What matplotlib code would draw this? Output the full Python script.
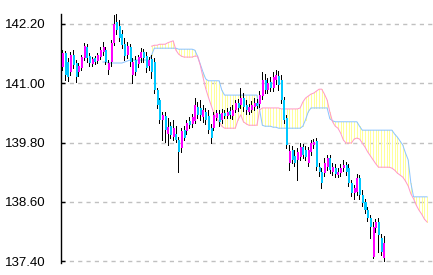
import matplotlib

matplotlib.use("Agg")
import matplotlib.pyplot as plt
import numpy as np

# candles (open, high, low, close)
opens = [
    141.33, 141.61, 141.43, 141.23, 141.57, 141.41, 141.23, 141.31, 141.51, 141.73,
    141.55, 141.39, 141.51, 141.45, 141.53, 141.63, 141.67, 141.27, 141.43, 141.82,
    142.24, 142.16, 142.00, 141.79, 141.57, 141.73, 141.17, 141.47, 141.39, 141.51,
    141.63, 141.55, 141.35, 141.49, 141.43, 140.86, 140.66, 140.26, 140.34, 139.97,
    140.13, 139.91, 139.97, 139.85, 139.69, 140.05, 140.03, 140.24, 140.18, 140.24,
    140.52, 140.50, 140.32, 140.42, 140.34, 140.09, 140.09, 140.30, 140.38, 140.26,
    140.40, 140.34, 140.44, 140.34, 140.46, 140.60, 140.56, 140.70, 140.56, 140.42,
    140.46, 140.52, 140.60, 140.58, 140.74, 141.07, 140.86, 141.03, 140.90, 141.07,
    141.15, 141.07, 140.66, 140.30, 139.39, 139.65, 139.53, 139.45, 139.51, 139.71,
    139.65, 139.39, 139.61, 139.75, 139.83, 139.30, 139.20, 139.18, 139.30, 139.49,
    139.20, 139.28, 139.14, 139.18, 139.28, 139.34, 139.28, 138.98, 138.78, 138.80,
    139.08, 138.74, 138.60, 138.43, 138.27, 137.48, 138.07, 138.19, 137.87, 137.46,
]
closes = [
    141.61, 141.17, 141.13, 141.57, 141.37, 141.13, 141.35, 141.53, 141.75, 141.51,
    141.41, 141.49, 141.43, 141.57, 141.67, 141.73, 141.43, 141.41, 141.82, 142.20,
    142.08, 141.92, 141.77, 141.55, 141.75, 141.43, 141.43, 141.23, 141.53, 141.63,
    141.51, 141.31, 141.47, 141.23, 140.86, 140.56, 140.26, 140.36, 140.05, 140.11,
    139.95, 140.09, 139.85, 139.61, 140.03, 139.89, 140.20, 140.15, 140.32, 140.56,
    140.36, 140.36, 140.46, 140.26, 140.05, 139.89, 140.36, 140.40, 140.22, 140.40,
    140.34, 140.42, 140.36, 140.46, 140.60, 140.50, 140.70, 140.52, 140.46, 140.52,
    140.56, 140.60, 140.54, 140.76, 141.07, 140.86, 141.01, 140.90, 141.13, 141.17,
    140.96, 140.66, 140.26, 139.75, 139.63, 139.45, 139.39, 139.61, 139.71, 139.55,
    139.51, 139.65, 139.79, 139.81, 139.30, 139.20, 138.98, 139.39, 139.49, 139.24,
    139.30, 139.16, 139.20, 139.28, 139.34, 139.20, 138.98, 138.78, 138.88, 139.08,
    138.74, 138.58, 138.43, 138.27, 138.09, 138.09, 138.19, 137.93, 137.58, 137.76,
]
highs = [
    141.67, 141.65, 141.51, 141.63, 141.67, 141.47, 141.41, 141.57, 141.82, 141.79,
    141.61, 141.53, 141.55, 141.61, 141.73, 141.84, 141.73, 141.47, 141.88, 142.38,
    142.40, 142.28, 142.08, 141.92, 141.84, 141.79, 141.51, 141.55, 141.57, 141.71,
    141.69, 141.63, 141.53, 141.57, 141.51, 140.90, 140.70, 140.42, 140.42, 140.30,
    140.22, 140.26, 140.13, 139.91, 140.09, 140.13, 140.26, 140.32, 140.38, 140.70,
    140.62, 140.66, 140.56, 140.50, 140.46, 140.18, 140.42, 140.46, 140.46, 140.48,
    140.46, 140.50, 140.52, 140.56, 140.66, 140.68, 140.90, 140.80, 140.66, 140.58,
    140.64, 140.70, 140.68, 140.84, 141.23, 141.19, 141.11, 141.13, 141.23, 141.27,
    141.25, 141.17, 140.72, 140.36, 139.75, 139.73, 139.65, 139.69, 139.79, 139.77,
    139.73, 139.71, 139.85, 139.87, 139.89, 139.39, 139.28, 139.49, 139.55, 139.55,
    139.39, 139.37, 139.28, 139.37, 139.45, 139.41, 139.37, 139.04, 138.94, 139.16,
    139.14, 138.84, 138.66, 138.49, 138.33, 138.19, 138.25, 138.27, 137.95, 137.91,
]
lows = [
    141.27, 141.07, 141.05, 141.17, 141.31, 141.03, 141.15, 141.27, 141.47, 141.43,
    141.35, 141.35, 141.39, 141.41, 141.49, 141.57, 141.39, 141.19, 141.35, 141.77,
    142.00, 141.86, 141.71, 141.47, 141.51, 141.35, 141.01, 141.17, 141.33, 141.43,
    141.43, 141.23, 141.27, 141.11, 140.80, 140.50, 140.20, 139.85, 139.81, 139.75,
    139.89, 139.85, 139.81, 139.20, 139.61, 139.85, 139.97, 140.09, 140.11, 140.20,
    140.30, 140.26, 140.22, 140.18, 139.99, 139.79, 140.05, 140.26, 140.13, 140.20,
    140.30, 140.30, 140.30, 140.28, 140.42, 140.44, 140.50, 140.44, 140.38, 140.38,
    140.42, 140.46, 140.50, 140.52, 140.68, 140.80, 140.80, 140.84, 140.84, 140.99,
    140.86, 140.60, 140.20, 139.69, 139.24, 139.39, 139.32, 139.04, 139.45, 139.49,
    139.45, 139.32, 139.55, 139.69, 139.24, 139.12, 138.88, 139.12, 139.24, 139.18,
    139.14, 139.10, 139.10, 139.12, 139.22, 139.14, 138.92, 138.72, 138.66, 138.74,
    138.66, 138.51, 138.37, 138.21, 137.87, 137.46, 137.99, 137.58, 137.52, 137.40,
]

# ichimoku spans (start index relative to first candle, shifted ahead)
span_a_start = 15
span_a = [
    141.43, 141.43, 141.41, 141.41, 141.41, 141.41, 141.41, 141.41, 141.43, 141.45,
    141.47, 141.47, 141.47, 141.47, 141.47, 141.47, 141.47, 141.47, 141.57, 141.71,
    141.71, 141.71, 141.71, 141.71, 141.71, 141.71, 141.71, 141.71, 141.69, 141.69,
    141.69, 141.69, 141.69, 141.69, 141.67, 141.55, 141.39, 141.23, 141.09, 141.05,
    141.05, 141.05, 141.05, 141.05, 140.86, 140.76, 140.76, 140.76, 140.76, 140.76,
    140.76, 140.76, 140.76, 140.76, 140.76, 140.76, 140.76, 140.76, 140.46, 140.15,
    140.13, 140.13, 140.13, 140.11, 140.11, 140.09, 140.09, 140.09, 140.09, 140.09,
    140.09, 140.09, 140.09, 140.09, 140.13, 140.26, 140.42, 140.50, 140.50, 140.50,
    140.50, 140.50, 140.50, 140.50, 140.28, 140.24, 140.22, 140.22, 140.22, 140.22,
    140.22, 140.22, 140.22, 140.22, 140.22, 140.13, 140.05, 140.05, 140.05, 140.05,
    140.05, 140.05, 140.05, 140.05, 140.05, 140.05, 140.05, 140.05, 139.97, 139.91,
    139.83, 139.75, 139.59, 139.45, 138.98, 138.70, 138.70, 138.70, 138.70, 138.70,
    138.70,
]
span_b_start = 33
span_b = [
    141.75, 141.77, 141.77, 141.79, 141.79, 141.79, 141.82, 141.84, 141.86, 141.67,
    141.59, 141.55, 141.53, 141.53, 141.53, 141.53, 141.55, 141.55, 141.37, 141.13,
    140.90, 140.72, 140.56, 140.40, 140.30, 140.22, 140.13, 140.09, 140.09, 140.09,
    140.09, 140.09, 140.26, 140.36, 140.22, 140.18, 140.15, 140.15, 140.15, 140.15,
    140.46, 140.50, 140.50, 140.50, 140.50, 140.50, 140.50, 140.50, 140.48, 140.48,
    140.48, 140.48, 140.48, 140.48, 140.48, 140.50, 140.62, 140.70, 140.74, 140.78,
    140.80, 140.84, 140.88, 140.88, 140.78, 140.66, 140.42, 140.22, 140.13, 140.09,
    139.99, 139.85, 139.79, 139.79, 139.79, 139.87, 139.89, 139.87, 139.79, 139.71,
    139.61, 139.53, 139.45, 139.37, 139.30, 139.30, 139.30, 139.30, 139.30, 139.28,
    139.24, 139.18, 139.14, 139.10, 139.02, 138.92, 138.76, 138.66, 138.53, 138.43,
    138.35, 138.25, 138.19,
]

y_ticks = [137.40, 138.60, 139.80, 141.00, 142.20]

UP = "#ff00ff"
DOWN = "#00c8ff"
PX = 0.72  # one pixel in points at dpi 100

fig = plt.figure(figsize=(4.33, 2.75), dpi=100)
ax = fig.add_axes([61 / 433, 12 / 275, 372 / 433, 249 / 275])

xa = np.arange(len(span_a)) + span_a_start
xb = np.arange(len(span_b)) + span_b_start

# cloud: vertical hatch lines between the two spans
a_on_b = np.array(span_a[span_b_start - span_a_start:])
b_arr = np.array(span_b)
ax.vlines(xb, np.minimum(a_on_b, b_arr), np.maximum(a_on_b, b_arr),
          color="#ffff99", lw=PX, zorder=1, antialiased=False)
ax.plot(xa, span_a, color="#8cc4ff", lw=PX, zorder=2)
ax.plot(xb, span_b, color="#ff99c8", lw=PX, zorder=2)

xs = np.arange(len(opens))
o = np.array(opens)
c = np.array(closes)
ax.vlines(xs - 0.1, lows, highs, color="black", lw=PX, zorder=3, antialiased=False)
colors = [UP if cc >= oo else DOWN for oo, cc in zip(o, c)]
ax.bar(xs + 0.2, np.abs(c - o), bottom=np.minimum(o, c), width=0.75,
       color=colors, lw=0, zorder=4, antialiased=False)

ax.set_xlim(-0.556, 137.2)
ax.set_ylim(137.36, 142.4025)
ax.set_yticks(y_ticks)
ax.set_yticklabels([f"{t:.2f}" for t in y_ticks],
                   family=["Liberation Sans Narrow", "Liberation Sans", "DejaVu Sans"],
                   fontsize=9.5)
ax.set_xticks([])
ax.tick_params(axis="y", direction="in", length=3, width=1, pad=11, colors="black")
for side in ("top", "right", "bottom"):
    ax.spines[side].set_visible(False)
ax.spines["left"].set_linewidth(1)
ax.yaxis.grid(True, linestyle=(0, (3, 3)), color="#c0c0c0", lw=1)
ax.set_axisbelow(True)

fig.savefig("out.png", dpi=100)
